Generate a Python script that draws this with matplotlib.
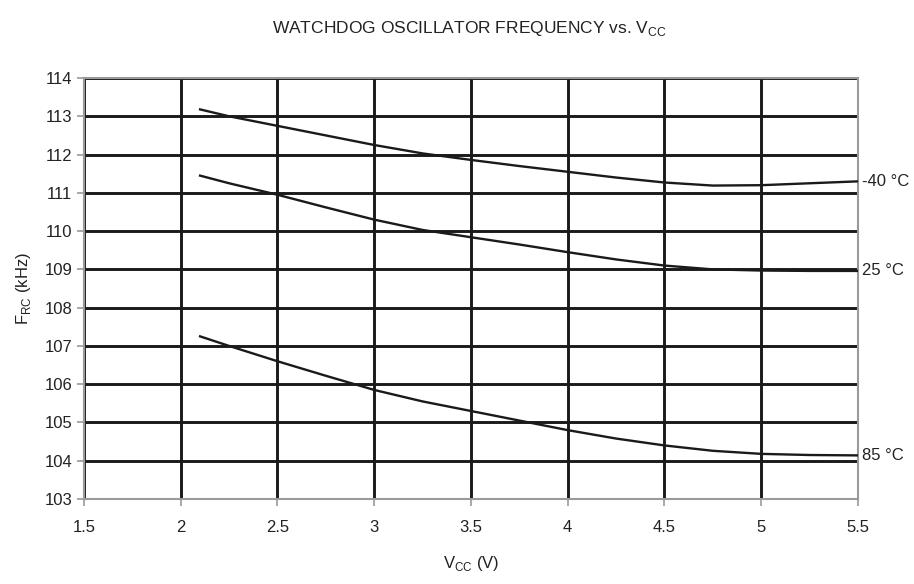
import matplotlib
matplotlib.use("Agg")
import matplotlib.pyplot as plt

plt.rcParams["font.family"] = ["Liberation Sans", "DejaVu Sans"]

# supply voltage (V) at which each curve was read
vcc = [2.1, 2.25, 2.5, 2.75, 3.0, 3.25, 3.5, 3.75, 4.0, 4.25, 4.5, 4.75, 5.0, 5.25, 5.5]
# watchdog oscillator frequency (kHz) per temperature
f_m40 = [113.18, 113.0, 112.75, 112.5, 112.25, 112.03, 111.86, 111.7, 111.55, 111.4,
         111.27, 111.19, 111.2, 111.25, 111.3]
f_25 = [111.45, 111.25, 110.95, 110.62, 110.3, 110.03, 109.84, 109.65, 109.45, 109.26,
        109.1, 109.0, 108.97, 108.96, 108.96]
f_85 = [107.25, 107.0, 106.6, 106.22, 105.85, 105.55, 105.3, 105.05, 104.8, 104.58,
        104.4, 104.26, 104.18, 104.15, 104.14]
labels = ["-40 °C", "25 °C", "85 °C"]

GRAY = "#9a9a9a"
FS = 12

fig = plt.figure(figsize=(9.14, 5.84), dpi=100)
ax = fig.add_axes([0.0919, 0.1455, 0.8468, 0.7209])

for ys, lab in zip([f_m40, f_25, f_85], labels):
    ax.plot(vcc, ys, color="#1a1a1a", lw=1.7, zorder=3)
    ax.text(5.52, ys[-1], lab, fontsize=FS, va="center", ha="left", color="#222222")

ax.set_xlim(1.5, 5.5)
ax.set_ylim(103, 114)
ax.set_xticks([1.5, 2, 2.5, 3, 3.5, 4, 4.5, 5, 5.5])
ax.set_xticklabels(["1.5", "2", "2.5", "3", "3.5", "4", "4.5", "5", "5.5"])
ax.set_yticks(range(103, 115))
ax.grid(True, color="#1a1a1a", lw=2.1, zorder=1)
ax.set_axisbelow(True)
for s in ax.spines.values():
    s.set_color(GRAY)
    s.set_linewidth(1.5)
ax.tick_params(axis="both", colors=GRAY, labelcolor="#222222", labelsize=FS,
               length=5, width=1.2, direction="out")
ax.tick_params(axis="x", pad=10)

ax.set_xlabel("V$_{\\mathregular{CC}}$ (V)", fontsize=FS, labelpad=14, color="#222222")
ax.set_ylabel("F$_{\\mathregular{RC}}$ (kHz)", fontsize=FS, labelpad=8, color="#222222")
fig.text(0.514, 0.952, "WATCHDOG OSCILLATOR FREQUENCY vs. V$_{\\mathregular{CC}}$",
         fontsize=12.5, ha="center", va="center", color="#222222")

fig.savefig("out.png", dpi=100)
